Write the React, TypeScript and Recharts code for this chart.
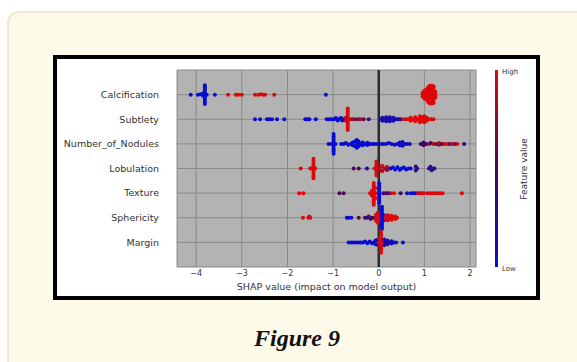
import { ScatterChart, Scatter, XAxis, YAxis, CartesianGrid, ReferenceLine } from 'recharts';

type Pt = [number, number, number]; // [shap value, beeswarm offset (rows), feature value 0..1]

const FEATURES = ['Calcification', 'Subtlety', 'Number_of_Nodules', 'Lobulation', 'Texture', 'Sphericity', 'Margin'];
const X_TICKS = [-4, -3, -2, -1, 0, 1, 2];

const calcification: Pt[] = [
  [-4.12, 0, 0], [-3.96, 0, 0], [-3.9, 0.02, 0],
  [-3.81, -0.38, 0], [-3.81, -0.3, 0], [-3.81, -0.22, 0], [-3.81, -0.15, 0], [-3.81, -0.07, 0], [-3.81, 0, 0],
  [-3.81, 0.07, 0], [-3.81, 0.15, 0], [-3.81, 0.22, 0], [-3.81, 0.3, 0], [-3.81, 0.38, 0],
  [-3.85, -0.05, 0], [-3.85, 0.05, 0], [-3.77, 0, 0], [-3.59, 0, 0],
  [-3.3, 0, 1], [-3.13, 0, 1], [-3.08, 0, 1], [-3.0, 0, 1], [-2.71, 0, 1], [-2.64, 0, 1], [-2.58, 0.02, 1],
  [-2.54, 0, 1], [-2.49, 0, 1], [-2.29, 0, 1], [-1.16, 0, 0],
  [0.96, -0.08, 1], [0.96, 0, 1], [0.96, 0.08, 1],
  [1.0, -0.16, 1], [1.0, -0.08, 1], [1.0, 0, 1], [1.0, 0.08, 1], [1.0, 0.16, 1],
  [1.04, -0.2, 1], [1.04, -0.1, 1], [1.04, 0, 1], [1.04, 0.1, 1], [1.04, 0.2, 1],
  [1.08, -0.3, 1], [1.08, -0.2, 1], [1.08, -0.1, 1], [1.08, 0, 1], [1.08, 0.1, 1], [1.08, 0.2, 1], [1.08, 0.3, 1],
  [1.12, -0.36, 1], [1.12, -0.27, 1], [1.12, -0.18, 1], [1.12, -0.09, 1], [1.12, 0, 1], [1.12, 0.09, 1], [1.12, 0.18, 1], [1.12, 0.27, 1], [1.12, 0.36, 1],
  [1.16, -0.36, 1], [1.16, -0.27, 1], [1.16, -0.18, 1], [1.16, -0.09, 1], [1.16, 0, 1], [1.16, 0.09, 1], [1.16, 0.18, 1], [1.16, 0.27, 1], [1.16, 0.36, 1],
  [1.2, -0.34, 1], [1.2, -0.25, 1], [1.2, -0.16, 1], [1.2, -0.08, 1], [1.2, 0, 1], [1.2, 0.08, 1], [1.2, 0.16, 1], [1.2, 0.25, 1], [1.2, 0.34, 1],
  [1.24, -0.12, 1], [1.24, 0, 1], [1.24, 0.12, 1],
];

const subtlety: Pt[] = [
  [-2.71, 0, 0], [-2.6, 0, 0], [-2.45, 0, 0], [-2.4, 0, 0], [-2.34, 0, 0], [-2.23, 0, 0], [-2.07, 0, 0],
  [-1.61, 0, 0], [-1.56, 0, 0], [-1.52, 0, 0], [-1.38, 0, 0],
  [-1.14, 0, 0], [-1.08, 0, 0], [-1.03, 0, 0], [-0.98, 0, 0], [-0.94, 0.05, 0], [-0.9, -0.05, 0], [-0.87, 0, 0],
  [-0.83, 0.05, 0], [-0.8, -0.05, 0], [-0.77, 0, 0.1],
  [-0.68, -0.44, 1], [-0.68, -0.35, 1], [-0.68, -0.26, 1], [-0.68, -0.17, 1], [-0.68, -0.08, 1], [-0.68, 0, 1],
  [-0.68, 0.08, 1], [-0.68, 0.17, 1], [-0.68, 0.26, 1], [-0.68, 0.35, 1], [-0.68, 0.44, 1],
  [-0.72, -0.06, 0.9], [-0.72, 0.06, 0.9], [-0.64, 0, 1],
  [-0.58, 0, 0.8], [-0.52, 0, 0.7], [-0.45, 0, 0.5], [-0.4, 0, 0.9], [-0.33, 0, 0.6], [-0.22, 0, 0.4],
  [0.04, 0, 0.15], [0.08, -0.06, 0.15], [0.08, 0.06, 0.1], [0.12, 0, 0.15], [0.16, -0.08, 0.2], [0.16, 0.08, 0.1],
  [0.2, 0, 0.15], [0.24, -0.08, 0.1], [0.24, 0.08, 0.2], [0.28, 0, 0.15], [0.32, -0.06, 0.1], [0.32, 0.06, 0.2],
  [0.36, 0, 0.15], [0.4, 0, 0.1], [0.44, 0, 0.15], [0.48, 0, 0.2],
  [0.55, 0, 1], [0.6, 0, 0.95], [0.65, 0, 1], [0.7, -0.06, 1], [0.7, 0.06, 1], [0.75, 0, 1], [0.8, -0.08, 1],
  [0.8, 0.08, 1], [0.85, 0, 1], [0.9, -0.12, 1], [0.9, 0, 1], [0.9, 0.12, 1], [0.95, -0.08, 1], [0.95, 0.08, 1],
  [1.0, -0.12, 1], [1.0, 0, 1], [1.0, 0.12, 1], [1.05, -0.06, 1], [1.05, 0.06, 1], [1.1, 0, 1], [1.15, 0, 1], [1.2, 0, 1],
];

const nodules: Pt[] = [
  [-1.1, 0, 0.05],
  [-0.99, -0.4, 0], [-0.99, -0.31, 0], [-0.99, -0.22, 0], [-0.99, -0.13, 0], [-0.99, -0.05, 0], [-0.99, 0.05, 0],
  [-0.99, 0.13, 0], [-0.99, 0.22, 0], [-0.99, 0.31, 0], [-0.99, 0.4, 0], [-1.03, 0, 0], [-0.95, 0, 0],
  [-0.82, 0, 0], [-0.77, 0, 0], [-0.72, 0.04, 0], [-0.67, -0.04, 0], [-0.62, 0, 0.05], [-0.57, 0.06, 0], [-0.57, -0.06, 0],
  [-0.52, 0.1, 0], [-0.52, -0.1, 0], [-0.48, 0.16, 0], [-0.48, 0, 0], [-0.48, -0.16, 0], [-0.44, 0.1, 0], [-0.44, -0.1, 0],
  [-0.4, 0, 0.05], [-0.35, 0.06, 0], [-0.35, -0.06, 0], [-0.3, 0, 0], [-0.25, 0.05, 0], [-0.25, -0.05, 0], [-0.2, 0, 0.05],
  [-0.15, 0, 0], [-0.1, 0, 0], [-0.05, 0, 0.05],
  [0.04, 0, 0], [0.1, 0, 0.1], [0.16, 0, 0.05], [0.22, 0.04, 0.1], [0.28, 0, 0.05], [0.34, -0.04, 0.1], [0.4, 0, 0.05],
  [0.46, 0.06, 0.1], [0.46, -0.06, 0], [0.52, 0.08, 0.1], [0.52, -0.08, 0.05], [0.56, 0, 0.1], [0.62, 0, 0.05], [0.68, 0, 0.1],
  [0.92, 0, 0.4], [0.98, 0.06, 0.3], [0.98, -0.06, 0.5], [1.04, 0, 0.35], [1.1, 0, 0.9], [1.14, 0.04, 0.4], [1.2, 0, 0.9],
  [1.26, 0, 0.6], [1.32, 0.04, 1], [1.32, -0.04, 0.8], [1.38, 0, 0.5], [1.44, 0, 0.9], [1.5, 0, 1], [1.56, 0, 0.6],
  [1.62, 0, 0.9], [1.68, 0, 0.5], [1.72, 0, 1], [1.87, 0, 0.4],
];

const lobulation: Pt[] = [
  [-1.71, 0, 1],
  [-1.43, -0.4, 1], [-1.43, -0.31, 1], [-1.43, -0.22, 1], [-1.43, -0.13, 1], [-1.43, -0.05, 1], [-1.43, 0.05, 1],
  [-1.43, 0.13, 1], [-1.43, 0.22, 1], [-1.43, 0.31, 1], [-1.43, 0.4, 1], [-1.47, 0, 1], [-1.39, 0, 1], [-1.5, 0, 1],
  [-0.55, 0, 0.55], [-0.44, 0, 0.5], [-0.26, 0, 0.1],
  [-0.05, -0.28, 1], [-0.05, -0.2, 1], [-0.05, -0.12, 1], [-0.05, -0.04, 1], [-0.05, 0.04, 1], [-0.05, 0.12, 1],
  [-0.05, 0.2, 1], [-0.05, 0.28, 1], [-0.09, 0, 1], [-0.01, 0, 0.9],
  [0.04, 0.08, 0.9], [0.04, -0.08, 0.8], [0.08, 0.1, 1], [0.08, -0.1, 0.9], [0.13, 0, 0.8], [0.18, 0.06, 0.9],
  [0.18, -0.06, 0.7], [0.22, 0, 0.8],
  [0.26, 0, 0.05], [0.31, 0.04, 0], [0.36, -0.04, 0.05], [0.41, 0.05, 0], [0.46, -0.05, 0], [0.5, 0, 0.05],
  [0.55, 0.04, 0], [0.6, -0.04, 0], [0.65, 0, 0.05], [0.7, 0, 0],
  [0.81, 0.08, 0.3], [0.81, -0.08, 0.3], [0.84, 0, 0.3], [1.1, 0, 0.3], [1.13, 0.07, 0.25], [1.16, -0.07, 0.3],
  [1.19, 0, 0.3], [1.22, 0, 0.25],
];

const texture: Pt[] = [
  [-1.74, 0, 1], [-1.65, 0, 1], [-0.86, 0, 0.5], [-0.77, 0, 0.5],
  [-0.11, -0.47, 1], [-0.11, -0.38, 1], [-0.11, -0.29, 1], [-0.11, -0.2, 1], [-0.11, -0.11, 1], [-0.11, -0.03, 1],
  [-0.11, 0.05, 1], [-0.11, 0.14, 1], [-0.11, 0.23, 1], [-0.11, 0.32, 1], [-0.11, 0.41, 1],
  [-0.15, -0.1, 1], [-0.15, 0.1, 1], [-0.19, 0, 1], [-0.07, 0.2, 1], [-0.07, -0.2, 1], [-0.07, 0, 1],
  [0.01, -0.4, 0], [0.01, -0.3, 0], [0.01, -0.2, 0], [0.01, -0.1, 0], [0.01, 0, 0], [0.01, 0.1, 0], [0.01, 0.2, 0],
  [0.01, 0.3, 0], [0.01, 0.4, 0],
  [0.1, 0, 0.2], [0.15, 0, 0.6], [0.2, 0, 0.2], [0.25, 0, 0.8], [0.33, 0, 1], [0.48, 0, 0.4], [0.62, 0, 0.05],
  [0.7, 0, 0], [0.76, 0, 0], [0.81, 0, 0.05], [0.86, 0, 1], [0.9, 0, 0.9], [0.94, 0, 1], [0.98, 0, 1], [1.06, 0, 0.9],
  [1.12, 0, 1], [1.17, 0, 1], [1.22, 0, 1], [1.28, 0, 1], [1.34, 0, 1], [1.4, 0, 1], [1.82, 0, 1],
];

const sphericity: Pt[] = [
  [-1.66, 0, 1], [-1.54, 0, 1], [-1.5, 0, 1], [-1.52, 0.05, 1],
  [-0.7, 0, 0], [-0.66, 0, 0], [-0.6, 0, 0.05], [-0.44, 0, 0.6], [-0.3, 0, 0.4], [-0.26, 0, 0.4], [-0.22, 0.05, 0.5],
  [-0.18, -0.05, 0.4], [-0.14, 0, 0.45], [-0.1, 0, 0.35],
  [-0.06, -0.12, 1], [-0.06, 0, 1], [-0.06, 0.12, 1], [-0.02, -0.2, 1], [-0.02, 0.2, 1], [0.02, 0.08, 1], [0.02, -0.08, 1],
  [0.07, -0.45, 0], [0.07, -0.36, 0], [0.07, -0.27, 0], [0.07, -0.18, 0], [0.07, -0.09, 0], [0.07, 0, 0],
  [0.07, 0.09, 0], [0.07, 0.18, 0], [0.07, 0.27, 0], [0.07, 0.36, 0], [0.07, 0.45, 0], [0.11, -0.1, 0], [0.11, 0.1, 0],
  [0.16, 0.06, 1], [0.16, -0.06, 1], [0.2, 0.1, 1], [0.2, -0.1, 1], [0.24, 0, 1], [0.28, 0.08, 1], [0.28, -0.08, 1],
  [0.32, 0, 1], [0.36, 0.05, 1], [0.36, -0.05, 1], [0.4, 0, 1],
];

const margin: Pt[] = [
  [-0.66, 0, 0], [-0.6, 0, 0], [-0.55, 0, 0], [-0.5, 0, 0], [-0.45, 0, 0], [-0.4, 0, 0.05], [-0.35, 0, 0],
  [-0.3, 0.04, 0], [-0.25, -0.04, 0], [-0.2, 0.04, 0.05], [-0.15, -0.04, 0], [-0.11, 0, 0], [-0.07, 0.08, 0],
  [-0.07, -0.08, 0], [-0.03, 0.1, 0.1], [-0.03, -0.1, 0.05],
  [0.05, -0.42, 1], [0.05, -0.33, 1], [0.05, -0.24, 1], [0.05, -0.15, 1], [0.05, -0.05, 1], [0.05, 0.05, 1],
  [0.05, 0.15, 1], [0.05, 0.24, 1], [0.05, 0.33, 1], [0.05, 0.42, 1], [0.01, 0, 1], [0.09, 0, 1], [0.02, 0.14, 1], [0.02, -0.14, 1],
  [0.12, 0.12, 0.15], [0.12, -0.12, 0.2], [0.15, 0, 0.15], [0.19, 0.08, 0.1], [0.19, -0.08, 0.2], [0.24, 0, 0.15],
  [0.28, 0.05, 0.1], [0.28, -0.05, 0.15], [0.33, 0, 0.1], [0.38, 0, 0.15], [0.53, 0, 0.05],
];

const SERIES: Pt[][] = [calcification, subtlety, nodules, lobulation, texture, sphericity, margin];

// blue -> dark purple -> red, like the colour bar
function featureColor(c: number) {
  const lo = [8, 12, 210];
  const mid = [72, 8, 88];
  const hi = [222, 8, 10];
  const [a, b, t] = c < 0.5 ? [lo, mid, c / 0.5] : [mid, hi, (c - 0.5) / 0.5];
  const m = (i: number) => Math.round(a[i] + (b[i] - a[i]) * t);
  return `rgb(${m(0)},${m(1)},${m(2)})`;
}

const Dot = (props: any) => {
  const { cx, cy, payload } = props;
  if (cx == null || cy == null) return null;
  return <circle cx={cx} cy={cy} r={2} fill={featureColor(payload.c)} />;
};

const FONT = '"DejaVu Sans", sans-serif';

export default function App() {
  const rows = SERIES.map((pts, i) =>
    pts.map(([x, j, c]) => ({ x, y: FEATURES.length - i + j, c }))
  );

  return (
    <div style={{ position: 'absolute', left: 0, top: 0, width: 577, height: 362, background: '#fff', overflow: 'hidden' }}>
      {/* cream card */}
      <div
        style={{
          position: 'absolute', left: 7, top: 11, width: 600, height: 400,
          background: '#fefaea', border: '2px solid #efe9d3', borderRadius: 12, boxSizing: 'border-box',
        }}
      />
      {/* framed figure */}
      <div
        style={{
          position: 'absolute', left: 53, top: 55, width: 487, height: 245,
          background: '#fff', border: '4px solid #000', boxSizing: 'border-box',
        }}
      />
      <div style={{ position: 'absolute', left: 0, top: 0 }}>
        <ScatterChart width={577} height={362} margin={{ top: 70, right: 101, bottom: 65, left: 0 }}>
          <CartesianGrid fill="#b3b3b3" stroke="#8a8a8a" strokeWidth={1} />
          <XAxis
            type="number"
            dataKey="x"
            domain={[-4.42, 2.13]}
            ticks={X_TICKS}
            allowDataOverflow
            height={30}
            axisLine={false}
            tickLine={false}
            tickSize={0}
            tickMargin={3}
            tick={{ fill: '#333', fontSize: 8, fontFamily: FONT }}
            tickFormatter={(v: number) => (v < 0 ? `\u2212${Math.abs(v)}` : `${v}`)}
          />
          <YAxis
            type="number"
            dataKey="y"
            domain={[0, 8]}
            ticks={[1, 2, 3, 4, 5, 6, 7]}
            width={177}
            axisLine={false}
            tickLine={false}
            tickSize={0}
            tickMargin={18}
            tick={{ fill: '#333', fontSize: 9.5, fontFamily: FONT }}
            tickFormatter={(v: number) => FEATURES[FEATURES.length - v] ?? ''}
          />
          {rows.map((data, i) => (
            <Scatter key={FEATURES[i]} data={data} shape={Dot} isAnimationActive={false} />
          ))}
          <ReferenceLine x={0} stroke="#2b2b2b" strokeWidth={2.5} />
        </ScatterChart>
      </div>
      {/* axis title, colour bar */}
      <svg width={577} height={362} style={{ position: 'absolute', left: 0, top: 0, pointerEvents: 'none' }}>
        <defs>
          <linearGradient id="fv" x1="0" y1="1" x2="0" y2="0">
            <stop offset="0" stopColor={featureColor(0)} />
            <stop offset="0.5" stopColor={featureColor(0.5)} />
            <stop offset="1" stopColor={featureColor(1)} />
          </linearGradient>
        </defs>
        <text x={326.5} y={290} textAnchor="middle" fontSize={9.5} fill="#333" fontFamily={FONT}>
          SHAP value (impact on model output)
        </text>
        <rect x={495} y={70} width={3} height={197} fill="url(#fv)" />
        <text x={502} y={74} fontSize={7} fill="#333" fontFamily={FONT}>High</text>
        <text x={502} y={271} fontSize={7} fill="#333" fontFamily={FONT}>Low</text>
        <text
          x={527}
          y={169}
          textAnchor="middle"
          fontSize={9}
          fill="#333"
          fontFamily={FONT}
          transform="rotate(-90 527 169)"
        >
          Feature value
        </text>
      </svg>
      <div
        style={{
          position: 'absolute', left: 0, width: 594, top: 325, textAlign: 'center',
          fontFamily: '"Liberation Serif", serif', fontWeight: 'bold', fontStyle: 'italic', fontSize: 24, color: '#111',
        }}
      >
        Figure 9
      </div>
    </div>
  );
}
